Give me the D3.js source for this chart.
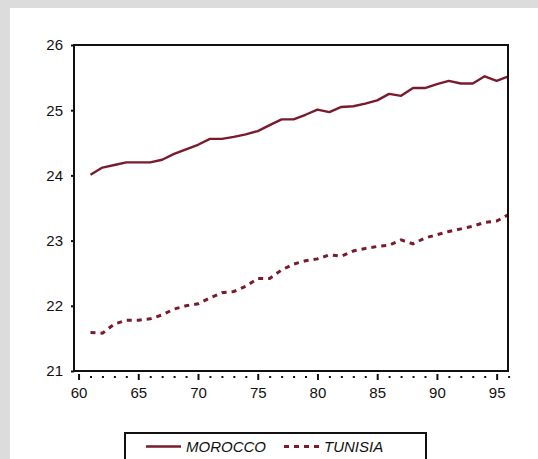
<!DOCTYPE html>
<html>
<head>
<meta charset="utf-8">
<script src="https://cdn.jsdelivr.net/npm/d3@7"></script>
<style>
    body { margin: 0; background: #dcdcdc; }
    svg { display: block; font-family: "Liberation Sans", Arial, sans-serif; }
</style>
</head>
<body>
<div id="chart"></div>
<script>
// years (19xx), one value per year
const years = d3.range(61, 97);
const morocco = [24.01, 24.12, 24.16, 24.20, 24.20, 24.20, 24.24, 24.33, 24.40, 24.47,
                 24.56, 24.56, 24.59, 24.63, 24.68, 24.77, 24.86, 24.86, 24.93, 25.01,
                 24.97, 25.05, 25.06, 25.10, 25.15, 25.25, 25.22, 25.34, 25.34, 25.40,
                 25.45, 25.41, 25.41, 25.52, 25.45, 25.52];
const tunisia = [21.59, 21.58, 21.72, 21.78, 21.78, 21.80, 21.86, 21.95, 22.00, 22.03,
                 22.12, 22.20, 22.22, 22.30, 22.42, 22.42, 22.55, 22.64, 22.69, 22.72,
                 22.78, 22.76, 22.84, 22.88, 22.91, 22.93, 23.01, 22.95, 23.04, 23.09,
                 23.14, 23.18, 23.22, 23.28, 23.30, 23.40];
const yTicks = [21, 22, 23, 24, 25, 26];
const xTicks = [60, 65, 70, 75, 80, 85, 90, 95];
const xMinor = d3.range(60, 97).filter(d => d % 5 !== 0);
const seriesNames = ["MOROCCO", "TUNISIA"];

const width = 538, height = 459;
const lineColor = "#7a1b2d";

const svg = d3.select("#chart").append("svg")
    .attr("width", width)
    .attr("height", height);

// white panel on grey page
svg.append("rect")
    .attr("x", 10).attr("y", 8)
    .attr("width", width - 10).attr("height", height - 8)
    .attr("fill", "#fff");

const frame = {left: 74, top: 45, right: 508, bottom: 371};

const x = d3.scaleLinear().domain([59.62, 95.95]).range([frame.left, frame.right]);
const y = d3.scaleLinear().domain([21, 26]).range([frame.bottom, frame.top]);

// y axis
const yAxis = svg.append("g")
    .attr("transform", `translate(${frame.left},0)`)
    .call(d3.axisLeft(y).tickValues(yTicks).tickSize(3).tickPadding(8).tickFormat(d3.format("d")));
yAxis.select(".domain").remove();
yAxis.selectAll("line").attr("stroke", "#111").attr("stroke-width", 2);
yAxis.selectAll("text").attr("font-size", 15).attr("fill", "#111")
    .attr("font-family", "Liberation Sans, Arial, sans-serif");

// x axis, drawn a little below the frame
const xAxis = svg.append("g")
    .attr("transform", `translate(0,${frame.bottom + 3})`)
    .call(d3.axisBottom(x).tickValues(xTicks).tickSize(6).tickPadding(7));
xAxis.select(".domain").remove();
xAxis.selectAll("line").attr("stroke", "#111").attr("stroke-width", 2);
xAxis.selectAll("text").attr("font-size", 15).attr("fill", "#111")
    .attr("font-family", "Liberation Sans, Arial, sans-serif");

const xMinorAxis = svg.append("g")
    .attr("transform", `translate(0,${frame.bottom + 5})`)
    .call(d3.axisBottom(x).tickValues(xMinor).tickSize(2).tickFormat(""));
xMinorAxis.select(".domain").remove();
xMinorAxis.selectAll("line").attr("stroke", "#111").attr("stroke-width", 2);

// clip to frame
svg.append("clipPath").attr("id", "clip")
    .append("rect")
    .attr("x", frame.left).attr("y", frame.top)
    .attr("width", frame.right - frame.left)
    .attr("height", frame.bottom - frame.top);

const line = d3.line()
    .x(d => x(d[0]))
    .y(d => y(d[1]));

const plot = svg.append("g").attr("clip-path", "url(#clip)");

plot.append("path")
    .datum(years.map((yr, i) => [yr, morocco[i]]))
    .attr("d", line)
    .attr("fill", "none")
    .attr("stroke", lineColor)
    .attr("stroke-width", 2.4)
    .attr("stroke-linejoin", "round");

plot.append("path")
    .datum(years.map((yr, i) => [yr, tunisia[i]]))
    .attr("d", line)
    .attr("fill", "none")
    .attr("stroke", lineColor)
    .attr("stroke-width", 3)
    .attr("stroke-dasharray", "5,5");

// frame
svg.append("rect")
    .attr("x", frame.left).attr("y", frame.top)
    .attr("width", frame.right - frame.left)
    .attr("height", frame.bottom - frame.top)
    .attr("fill", "none")
    .attr("stroke", "#111")
    .attr("stroke-width", 2);

// legend
const legend = svg.append("g");
legend.append("rect")
    .attr("x", 125).attr("y", 433)
    .attr("width", 301).attr("height", 40)
    .attr("fill", "#fff")
    .attr("stroke", "#111")
    .attr("stroke-width", 2);

const legendItems = [
    {name: seriesNames[0], x0: 146, dash: null, w: 2.4},
    {name: seriesNames[1], x0: 284, dash: "5,5", w: 3}
];
legendItems.forEach(d => {
    legend.append("line")
        .attr("x1", d.x0).attr("x2", d.x0 + 35)
        .attr("y1", 446.5).attr("y2", 446.5)
        .attr("stroke", lineColor)
        .attr("stroke-width", d.w)
        .attr("stroke-dasharray", d.dash);
    legend.append("text")
        .attr("x", d.x0 + 40)
        .attr("y", 451.5)
        .attr("font-size", 15)
        .attr("font-style", "italic")
        .attr("fill", "#111")
        .text(d.name);
});
</script>
</body>
</html>
